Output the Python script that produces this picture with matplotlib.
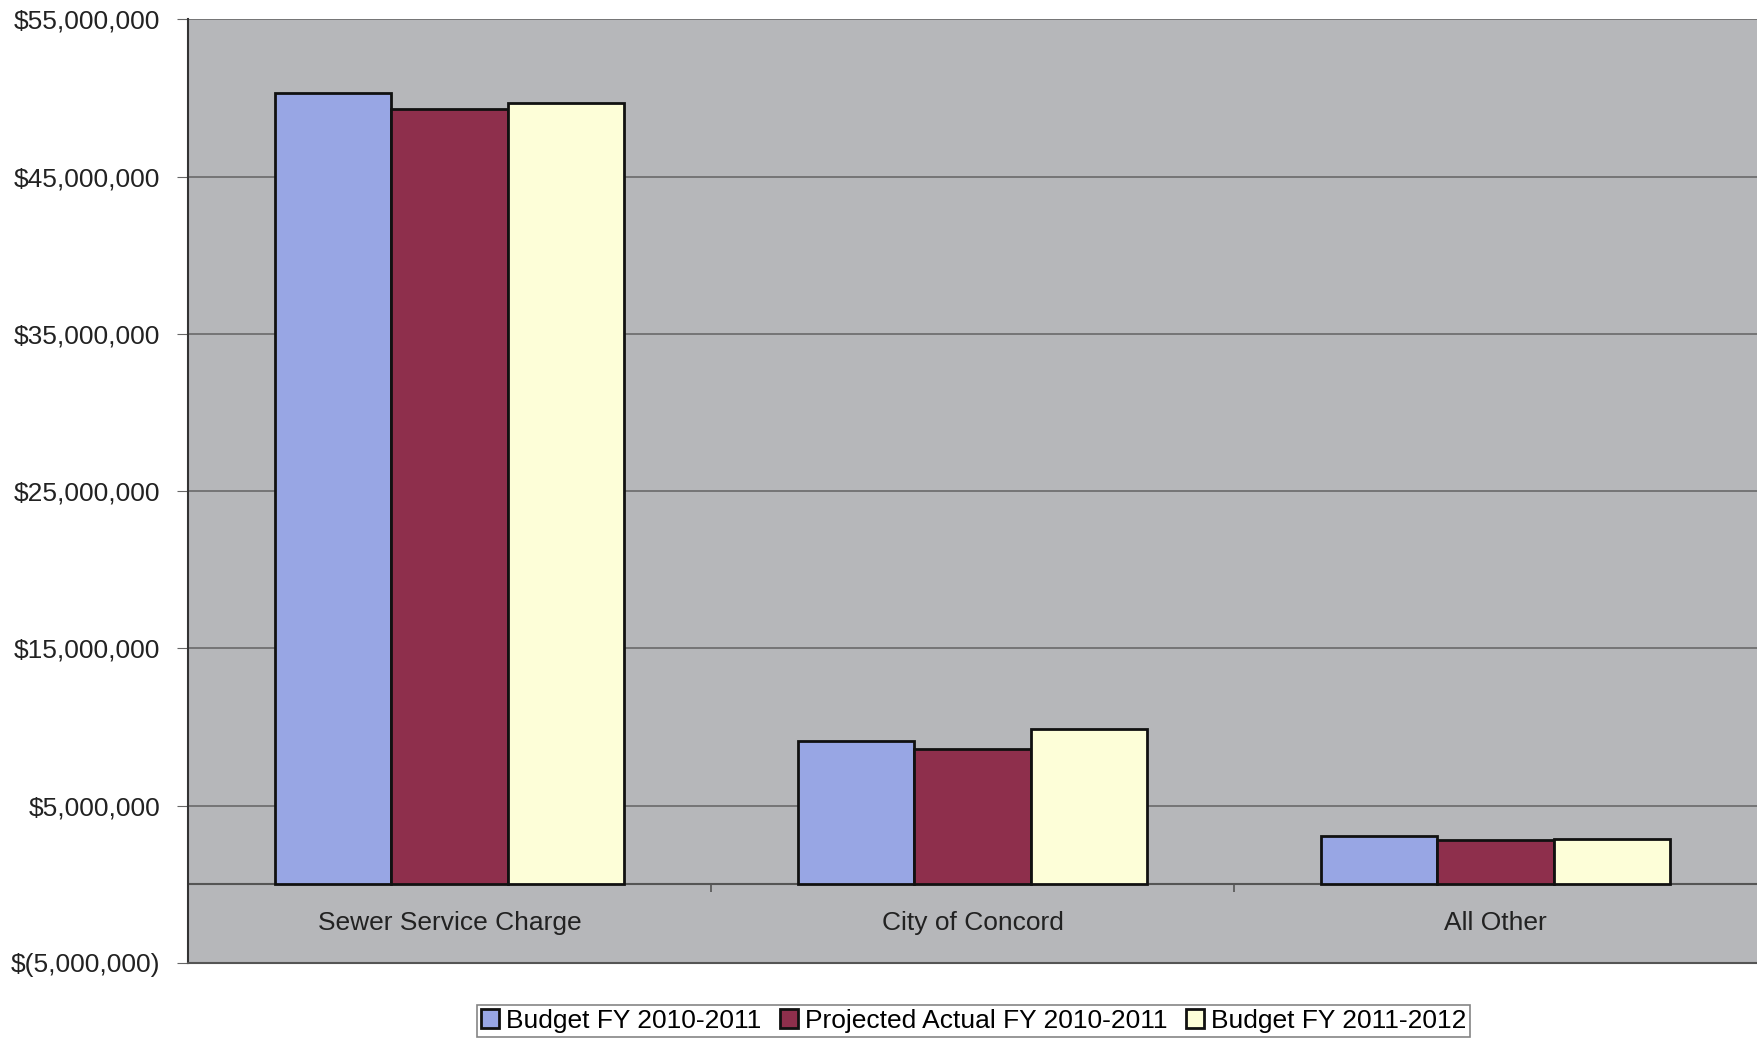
import numpy as np
import matplotlib.pyplot as plt
from matplotlib.ticker import FuncFormatter

plt.rcParams['font.family'] = ['Liberation Sans', 'DejaVu Sans']

# data
categories = ["Sewer Service Charge", "City of Concord", "All Other"]
budget_1011 = [50.3e6, 9.1e6, 3.1e6]
projected_1011 = [49.3e6, 8.6e6, 2.8e6]
budget_1112 = [49.7e6, 9.9e6, 2.9e6]
series_names = ["Budget FY 2010-2011", "Projected Actual FY 2010-2011", "Budget FY 2011-2012"]
colors = ["#98a6e4", "#8e2f4c", "#fdfed8"]
yticks = [-5e6, 5e6, 15e6, 25e6, 35e6, 45e6, 55e6]


def money(v, pos=None):
    if v < 0:
        return "$({:,.0f})".format(-v)
    return "${:,.0f}".format(v)


fig = plt.figure(figsize=(17.57, 10.44), dpi=100)
ax = fig.add_axes([0.107, 0.0776, 0.893, 0.904])
ax.set_facecolor("#b6b7ba")

x = np.arange(len(categories))
w = 0.222
for k, vals in enumerate([budget_1011, projected_1011, budget_1112]):
    ax.bar(x + (k - 1) * w, vals, w, color=colors[k], edgecolor="#111111",
           linewidth=2, label=series_names[k], zorder=3)

ax.set_xlim(-0.5, len(categories) - 0.5)
ax.set_ylim(-5e6, 55e6)
ax.set_yticks(yticks)
ax.yaxis.set_major_formatter(FuncFormatter(money))
ax.tick_params(axis="y", labelsize=19, length=8, color="#666666", labelcolor="#222222", pad=12)
ax.set_xticks([])
ax.yaxis.grid(True, color="#6a6a6a", linewidth=1.2, zorder=1)

# zero line and category dividers
ax.axhline(0, color="#555555", linewidth=1.5, zorder=2)
ax.vlines(x[:-1] + 0.5, -0.5e6, 0, color="#555555", linewidth=1.2, zorder=2)

for i, c in enumerate(categories):
    ax.text(i, -2.45e6, c, ha="center", va="center", fontsize=19, color="#222222")

for s in ["top", "right"]:
    ax.spines[s].set_visible(False)
ax.spines["left"].set_color("#333333")
ax.spines["left"].set_linewidth(1.5)
ax.spines["bottom"].set_color("#555555")
ax.spines["bottom"].set_linewidth(1.5)

leg = fig.legend(loc="upper center", bbox_to_anchor=(0.554, 0.0374), ncol=3,
                 fontsize=19, frameon=True, fancybox=False, edgecolor="#666666",
                 handlelength=0.7, handleheight=0.7, handletextpad=0.25,
                 columnspacing=0.7, borderpad=0.15, borderaxespad=0)
leg.get_frame().set_linewidth(1.2)

fig.savefig("out.png", dpi=100)
